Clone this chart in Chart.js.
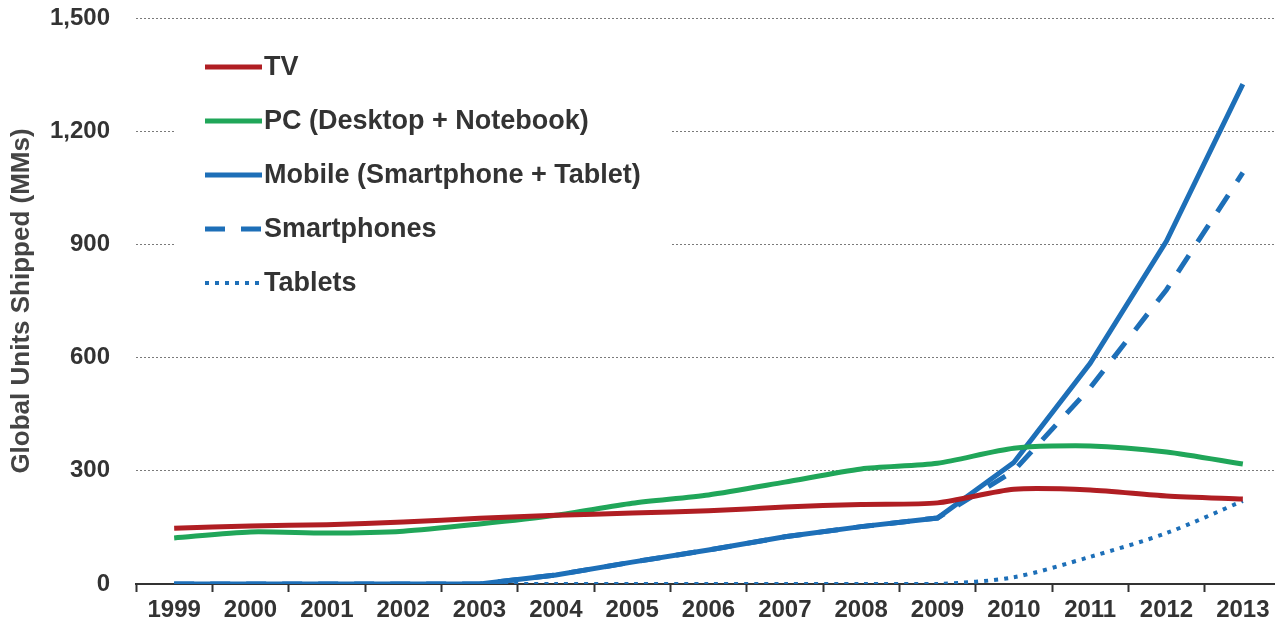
<!DOCTYPE html>
<html lang="en">
<head>
    <meta charset="UTF-8">
    <title>Global Units Shipped</title>
    <script src="https://cdn.jsdelivr.net/npm/chart.js"></script>
    <style>
        html, body {
            margin: 0;
            padding: 0;
            background: #ffffff;
            overflow: hidden;
        }
        .chart-box {
            position: relative;
            width: 1281px;
            height: 630px;
        }
    </style>
</head>
<body>
    <div class="chart-box">
        <canvas id="unitsChart"></canvas>
    </div>

    <script>
        // Dane (mln sztuk)
        const years = ['1999', '2000', '2001', '2002', '2003', '2004', '2005', '2006', '2007', '2008', '2009', '2010', '2011', '2012', '2013'];
        const tvUnits = [148, 154, 157, 164, 174, 182, 188, 194, 204, 211, 215, 251, 249, 233, 225];
        const pcUnits = [122, 138, 135, 140, 159, 182, 214, 236, 270, 305, 320, 360, 366, 350, 318];
        const mobileUnits = [0, 0, 0, 0, 0, 24, 58, 90, 125, 152, 175, 322, 585, 909, 1325];
        const smartphoneUnits = [0, 0, 0, 0, 0, 24, 58, 90, 125, 152, 175, 300, 520, 780, 1090];
        const tabletUnits = [0, 0, 0, 0, 0, 0, 0, 0, 0, 0, 0, 18, 72, 135, 220];
        const yTicks = [0, 300, 600, 900, 1200, 1500];

        const textColor = '#333333';
        const fontFamily = '"Liberation Sans", Arial, sans-serif';

        // Legenda wewnatrz obszaru wykresu, na bialym tle
        const insideLegend = {
            id: 'insideLegend',
            beforeDatasetsDraw(chart) {
                const ctx = chart.ctx;
                const area = chart.chartArea;
                const x0 = area.left + 69;
                const y0 = area.top + 49;
                ctx.save();
                ctx.fillStyle = '#ffffff';
                ctx.fillRect(area.left + 40, area.top + 20, 496, 272);
                ctx.font = 'bold 27px ' + fontFamily;
                ctx.textBaseline = 'middle';
                chart.data.datasets.forEach((ds, i) => {
                    const y = y0 + 54 * i;
                    ctx.beginPath();
                    ctx.setLineDash(ds.borderDash || []);
                    ctx.lineWidth = ds.borderWidth;
                    ctx.strokeStyle = ds.borderColor;
                    ctx.lineCap = 'butt';
                    ctx.moveTo(x0, y);
                    ctx.lineTo(x0 + 57, y);
                    ctx.stroke();
                    ctx.setLineDash([]);
                    ctx.fillStyle = textColor;
                    ctx.fillText(ds.label, x0 + 59, y + 1);
                });
                ctx.restore();
            }
        };

        const unitsChart = new Chart(document.getElementById('unitsChart'), {
            type: 'line',
            data: {
                labels: years,
                datasets: [{
                    label: 'TV',
                    data: tvUnits,
                    borderColor: '#B01E23',
                    borderWidth: 5,
                    tension: 0.25,
                    pointRadius: 0
                }, {
                    label: 'PC (Desktop + Notebook)',
                    data: pcUnits,
                    borderColor: '#20A659',
                    borderWidth: 5,
                    tension: 0.25,
                    pointRadius: 0
                }, {
                    label: 'Mobile (Smartphone + Tablet)',
                    data: mobileUnits,
                    borderColor: '#1D6FB8',
                    borderWidth: 5,
                    tension: 0,
                    pointRadius: 0
                }, {
                    label: 'Smartphones',
                    data: smartphoneUnits,
                    borderColor: '#1D6FB8',
                    borderWidth: 5,
                    borderDash: [20, 16],
                    tension: 0,
                    pointRadius: 0
                }, {
                    label: 'Tablets',
                    data: tabletUnits,
                    borderColor: '#1D6FB8',
                    borderWidth: 4,
                    borderDash: [4, 6],
                    tension: 0.3,
                    pointRadius: 0
                }]
            },
            options: {
                responsive: true,
                maintainAspectRatio: false,
                animation: false,
                layout: {
                    padding: { top: 18, right: 0, left: 0, bottom: 0 }
                },
                plugins: {
                    legend: { display: false },
                    tooltip: { enabled: false }
                },
                scales: {
                    x: {
                        offset: true,
                        grid: {
                            offset: true,
                            drawOnChartArea: false,
                            drawTicks: true,
                            tickLength: 8,
                            tickColor: '#333333',
                            tickWidth: 2
                        },
                        border: { color: '#333333', width: 2 },
                        ticks: {
                            color: textColor,
                            padding: 4,
                            maxRotation: 0,
                            autoSkip: false,
                            font: { family: fontFamily, size: 24, weight: 'bold' }
                        },
                        afterFit(axis) { axis.height = 46; }
                    },
                    y: {
                        min: 0,
                        max: 1500,
                        afterBuildTicks(axis) {
                            axis.ticks = yTicks.map(v => ({ value: v }));
                        },
                        grid: {
                            color: '#7a7a7a',
                            lineWidth: 1,
                            drawTicks: false
                        },
                        border: { display: false, dash: [2, 2] },
                        ticks: {
                            color: textColor,
                            padding: 26,
                            font: { family: fontFamily, size: 24, weight: 'bold' },
                            callback: v => v.toLocaleString('en-US')
                        },
                        title: {
                            display: true,
                            text: 'Global Units Shipped (MMs)',
                            color: '#444444',
                            padding: { top: 6, bottom: 0 },
                            font: { family: fontFamily, size: 26, weight: 'bold' }
                        },
                        afterFit(axis) {
                            axis.width = 136;
                            axis.paddingTop = 12;
                            axis.paddingBottom = 12;
                        }
                    }
                }
            },
            plugins: [insideLegend]
        });
    </script>
</body>
</html>
